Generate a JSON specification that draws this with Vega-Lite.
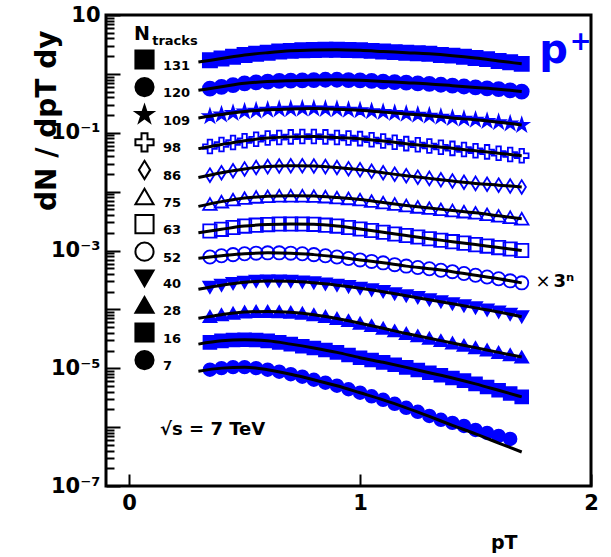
{
  "$schema": "https://vega.github.io/schema/vega-lite/v6.json",
  "width": 485,
  "height": 471,
  "autosize": {"type": "none"},
  "padding": {"left": 106, "top": 15, "right": 20, "bottom": 71},
  "background": "white",
  "config": {
    "font": "DejaVu Sans",
    "view": {"stroke": "black", "strokeWidth": 3},
    "axis": {
      "domain": false, "grid": false,
      "labelFont": "DejaVu Sans", "labelFontWeight": "bold", "labelFontSize": 21, "labelColor": "black",
      "titleFont": "DejaVu Sans", "titleFontWeight": "bold", "titleColor": "black",
      "tickColor": "black", "tickWidth": 2, "labelOverlap": false, "labelFlush": false
    },
    "text": {"font": "DejaVu Sans", "fontWeight": "bold", "color": "black"}
  },
  "datasets": {
    "series": [
      {"n":131},{"n":120},{"n":109},{"n":98},{"n":86},{"n":75},{"n":63},{"n":52},{"n":40},{"n":28},{"n":16},{"n":7}
    ],
    "spectra": [
      {"n":131,"pt":0.35,"v":1.70},{"n":131,"pt":0.40,"v":1.82},{"n":131,"pt":0.45,"v":1.95},{"n":131,"pt":0.50,"v":2.09},{"n":131,"pt":0.55,"v":2.19},{"n":131,"pt":0.60,"v":2.29},{"n":131,"pt":0.65,"v":2.40},{"n":131,"pt":0.70,"v":2.46},{"n":131,"pt":0.75,"v":2.51},{"n":131,"pt":0.80,"v":2.54},{"n":131,"pt":0.85,"v":2.57},{"n":131,"pt":0.90,"v":2.57},{"n":131,"pt":0.95,"v":2.54},{"n":131,"pt":1.00,"v":2.51},{"n":131,"pt":1.05,"v":2.46},{"n":131,"pt":1.10,"v":2.40},{"n":131,"pt":1.15,"v":2.34},{"n":131,"pt":1.20,"v":2.29},{"n":131,"pt":1.25,"v":2.24},{"n":131,"pt":1.30,"v":2.19},{"n":131,"pt":1.35,"v":2.09},{"n":131,"pt":1.40,"v":2.04},{"n":131,"pt":1.45,"v":1.95},{"n":131,"pt":1.50,"v":1.86},{"n":131,"pt":1.55,"v":1.78},{"n":131,"pt":1.60,"v":1.66},{"n":131,"pt":1.65,"v":1.58},{"n":131,"pt":1.70,"v":1.48},
      {"n":120,"pt":0.35,"v":0.562},{"n":120,"pt":0.40,"v":0.603},{"n":120,"pt":0.45,"v":0.646},{"n":120,"pt":0.50,"v":0.692},{"n":120,"pt":0.55,"v":0.716},{"n":120,"pt":0.60,"v":0.741},{"n":120,"pt":0.65,"v":0.759},{"n":120,"pt":0.70,"v":0.767},{"n":120,"pt":0.75,"v":0.776},{"n":120,"pt":0.80,"v":0.785},{"n":120,"pt":0.85,"v":0.794},{"n":120,"pt":0.90,"v":0.794},{"n":120,"pt":0.95,"v":0.785},{"n":120,"pt":1.00,"v":0.776},{"n":120,"pt":1.05,"v":0.759},{"n":120,"pt":1.10,"v":0.741},{"n":120,"pt":1.15,"v":0.724},{"n":120,"pt":1.20,"v":0.708},{"n":120,"pt":1.25,"v":0.692},{"n":120,"pt":1.30,"v":0.676},{"n":120,"pt":1.35,"v":0.653},{"n":120,"pt":1.40,"v":0.631},{"n":120,"pt":1.45,"v":0.610},{"n":120,"pt":1.50,"v":0.589},{"n":120,"pt":1.55,"v":0.569},{"n":120,"pt":1.60,"v":0.550},{"n":120,"pt":1.65,"v":0.525},{"n":120,"pt":1.70,"v":0.501},
      {"n":109,"pt":0.35,"v":0.1905},{"n":109,"pt":0.40,"v":0.204},{"n":109,"pt":0.45,"v":0.216},{"n":109,"pt":0.50,"v":0.229},{"n":109,"pt":0.55,"v":0.237},{"n":109,"pt":0.60,"v":0.245},{"n":109,"pt":0.65,"v":0.251},{"n":109,"pt":0.70,"v":0.254},{"n":109,"pt":0.75,"v":0.257},{"n":109,"pt":0.80,"v":0.257},{"n":109,"pt":0.85,"v":0.254},{"n":109,"pt":0.90,"v":0.251},{"n":109,"pt":0.95,"v":0.245},{"n":109,"pt":1.00,"v":0.240},{"n":109,"pt":1.05,"v":0.232},{"n":109,"pt":1.10,"v":0.224},{"n":109,"pt":1.15,"v":0.216},{"n":109,"pt":1.20,"v":0.209},{"n":109,"pt":1.25,"v":0.202},{"n":109,"pt":1.30,"v":0.195},{"n":109,"pt":1.35,"v":0.186},{"n":109,"pt":1.40,"v":0.178},{"n":109,"pt":1.45,"v":0.172},{"n":109,"pt":1.50,"v":0.166},{"n":109,"pt":1.55,"v":0.158},{"n":109,"pt":1.60,"v":0.151},{"n":109,"pt":1.65,"v":0.143},{"n":109,"pt":1.70,"v":0.135},
      {"n":98,"pt":0.35,"v":0.0582},{"n":98,"pt":0.40,"v":0.0631},{"n":98,"pt":0.45,"v":0.0684},{"n":98,"pt":0.50,"v":0.0733},{"n":98,"pt":0.55,"v":0.0776},{"n":98,"pt":0.60,"v":0.0813},{"n":98,"pt":0.65,"v":0.0832},{"n":98,"pt":0.70,"v":0.0851},{"n":98,"pt":0.75,"v":0.0861},{"n":98,"pt":0.80,"v":0.0861},{"n":98,"pt":0.85,"v":0.0851},{"n":98,"pt":0.90,"v":0.0832},{"n":98,"pt":0.95,"v":0.0813},{"n":98,"pt":1.00,"v":0.0794},{"n":98,"pt":1.05,"v":0.0759},{"n":98,"pt":1.10,"v":0.0724},{"n":98,"pt":1.15,"v":0.0692},{"n":98,"pt":1.20,"v":0.0653},{"n":98,"pt":1.25,"v":0.0624},{"n":98,"pt":1.30,"v":0.0596},{"n":98,"pt":1.35,"v":0.0569},{"n":98,"pt":1.40,"v":0.0543},{"n":98,"pt":1.45,"v":0.0519},{"n":98,"pt":1.50,"v":0.0495},{"n":98,"pt":1.55,"v":0.0473},{"n":98,"pt":1.60,"v":0.0447},{"n":98,"pt":1.65,"v":0.0427},{"n":98,"pt":1.70,"v":0.0407},
      {"n":86,"pt":0.35,"v":0.01905},{"n":86,"pt":0.40,"v":0.0209},{"n":86,"pt":0.45,"v":0.02265},{"n":86,"pt":0.50,"v":0.02427},{"n":86,"pt":0.55,"v":0.0257},{"n":86,"pt":0.60,"v":0.0266},{"n":86,"pt":0.65,"v":0.0272},{"n":86,"pt":0.70,"v":0.0275},{"n":86,"pt":0.75,"v":0.0275},{"n":86,"pt":0.80,"v":0.0272},{"n":86,"pt":0.85,"v":0.0266},{"n":86,"pt":0.90,"v":0.0257},{"n":86,"pt":0.95,"v":0.02455},{"n":86,"pt":1.00,"v":0.02344},{"n":86,"pt":1.05,"v":0.02213},{"n":86,"pt":1.10,"v":0.0209},{"n":86,"pt":1.15,"v":0.01972},{"n":86,"pt":1.20,"v":0.01862},{"n":86,"pt":1.25,"v":0.01758},{"n":86,"pt":1.30,"v":0.01679},{"n":86,"pt":1.35,"v":0.01585},{"n":86,"pt":1.40,"v":0.01514},{"n":86,"pt":1.45,"v":0.01445},{"n":86,"pt":1.50,"v":0.0138},{"n":86,"pt":1.55,"v":0.01334},{"n":86,"pt":1.60,"v":0.01288},{"n":86,"pt":1.65,"v":0.01245},{"n":86,"pt":1.70,"v":0.01202},
      {"n":75,"pt":0.35,"v":0.00617},{"n":75,"pt":0.40,"v":0.00676},{"n":75,"pt":0.45,"v":0.00733},{"n":75,"pt":0.50,"v":0.00776},{"n":75,"pt":0.55,"v":0.00813},{"n":75,"pt":0.60,"v":0.00832},{"n":75,"pt":0.65,"v":0.00851},{"n":75,"pt":0.70,"v":0.00851},{"n":75,"pt":0.75,"v":0.00851},{"n":75,"pt":0.80,"v":0.00841},{"n":75,"pt":0.85,"v":0.00822},{"n":75,"pt":0.90,"v":0.00794},{"n":75,"pt":0.95,"v":0.00767},{"n":75,"pt":1.00,"v":0.00733},{"n":75,"pt":1.05,"v":0.00692},{"n":75,"pt":1.10,"v":0.00653},{"n":75,"pt":1.15,"v":0.00617},{"n":75,"pt":1.20,"v":0.00582},{"n":75,"pt":1.25,"v":0.0055},{"n":75,"pt":1.30,"v":0.00525},{"n":75,"pt":1.35,"v":0.00501},{"n":75,"pt":1.40,"v":0.00479},{"n":75,"pt":1.45,"v":0.00457},{"n":75,"pt":1.50,"v":0.00437},{"n":75,"pt":1.55,"v":0.00412},{"n":75,"pt":1.60,"v":0.00389},{"n":75,"pt":1.65,"v":0.00367},{"n":75,"pt":1.70,"v":0.00347},
      {"n":63,"pt":0.35,"v":0.00214},{"n":63,"pt":0.40,"v":0.00229},{"n":63,"pt":0.45,"v":0.002455},{"n":63,"pt":0.50,"v":0.0026},{"n":63,"pt":0.55,"v":0.00269},{"n":63,"pt":0.60,"v":0.002754},{"n":63,"pt":0.65,"v":0.002818},{"n":63,"pt":0.70,"v":0.002818},{"n":63,"pt":0.75,"v":0.002818},{"n":63,"pt":0.80,"v":0.002786},{"n":63,"pt":0.85,"v":0.00269},{"n":63,"pt":0.90,"v":0.0026},{"n":63,"pt":0.95,"v":0.002455},{"n":63,"pt":1.00,"v":0.002317},{"n":63,"pt":1.05,"v":0.002188},{"n":63,"pt":1.10,"v":0.002042},{"n":63,"pt":1.15,"v":0.001905},{"n":63,"pt":1.20,"v":0.001799},{"n":63,"pt":1.25,"v":0.001698},{"n":63,"pt":1.30,"v":0.001585},{"n":63,"pt":1.35,"v":0.001496},{"n":63,"pt":1.40,"v":0.001413},{"n":63,"pt":1.45,"v":0.001334},{"n":63,"pt":1.50,"v":0.001259},{"n":63,"pt":1.55,"v":0.001189},{"n":63,"pt":1.60,"v":0.001122},{"n":63,"pt":1.65,"v":0.001059},{"n":63,"pt":1.70,"v":0.001},
      {"n":52,"pt":0.35,"v":7.76e-4},{"n":52,"pt":0.40,"v":8.13e-4},{"n":52,"pt":0.45,"v":8.51e-4},{"n":52,"pt":0.50,"v":8.81e-4},{"n":52,"pt":0.55,"v":9.02e-4},{"n":52,"pt":0.60,"v":9.12e-4},{"n":52,"pt":0.65,"v":9.12e-4},{"n":52,"pt":0.70,"v":9.02e-4},{"n":52,"pt":0.75,"v":8.81e-4},{"n":52,"pt":0.80,"v":8.51e-4},{"n":52,"pt":0.85,"v":8.13e-4},{"n":52,"pt":0.90,"v":7.76e-4},{"n":52,"pt":0.95,"v":7.33e-4},{"n":52,"pt":1.00,"v":6.92e-4},{"n":52,"pt":1.05,"v":6.53e-4},{"n":52,"pt":1.10,"v":6.17e-4},{"n":52,"pt":1.15,"v":5.75e-4},{"n":52,"pt":1.20,"v":5.43e-4},{"n":52,"pt":1.25,"v":5.13e-4},{"n":52,"pt":1.30,"v":4.90e-4},{"n":52,"pt":1.35,"v":4.62e-4},{"n":52,"pt":1.40,"v":4.37e-4},{"n":52,"pt":1.45,"v":4.07e-4},{"n":52,"pt":1.50,"v":3.80e-4},{"n":52,"pt":1.55,"v":3.55e-4},{"n":52,"pt":1.60,"v":3.31e-4},{"n":52,"pt":1.65,"v":3.05e-4},{"n":52,"pt":1.70,"v":2.82e-4},
      {"n":40,"pt":0.35,"v":2.37e-4},{"n":40,"pt":0.40,"v":2.57e-4},{"n":40,"pt":0.45,"v":2.75e-4},{"n":40,"pt":0.50,"v":2.88e-4},{"n":40,"pt":0.55,"v":2.99e-4},{"n":40,"pt":0.60,"v":3.02e-4},{"n":40,"pt":0.65,"v":3.02e-4},{"n":40,"pt":0.70,"v":2.99e-4},{"n":40,"pt":0.75,"v":2.92e-4},{"n":40,"pt":0.80,"v":2.82e-4},{"n":40,"pt":0.85,"v":2.69e-4},{"n":40,"pt":0.90,"v":2.57e-4},{"n":40,"pt":0.95,"v":2.43e-4},{"n":40,"pt":1.00,"v":2.29e-4},{"n":40,"pt":1.05,"v":2.14e-4},{"n":40,"pt":1.10,"v":2.00e-4},{"n":40,"pt":1.15,"v":1.84e-4},{"n":40,"pt":1.20,"v":1.70e-4},{"n":40,"pt":1.25,"v":1.585e-4},{"n":40,"pt":1.30,"v":1.46e-4},{"n":40,"pt":1.35,"v":1.35e-4},{"n":40,"pt":1.40,"v":1.245e-4},{"n":40,"pt":1.45,"v":1.15e-4},{"n":40,"pt":1.50,"v":1.06e-4},{"n":40,"pt":1.55,"v":9.77e-5},{"n":40,"pt":1.60,"v":9.02e-5},{"n":40,"pt":1.65,"v":8.22e-5},{"n":40,"pt":1.70,"v":7.50e-5},
      {"n":28,"pt":0.35,"v":7.59e-5},{"n":28,"pt":0.40,"v":8.13e-5},{"n":28,"pt":0.45,"v":8.61e-5},{"n":28,"pt":0.50,"v":9.02e-5},{"n":28,"pt":0.55,"v":9.23e-5},{"n":28,"pt":0.60,"v":9.23e-5},{"n":28,"pt":0.65,"v":9.12e-5},{"n":28,"pt":0.70,"v":8.91e-5},{"n":28,"pt":0.75,"v":8.61e-5},{"n":28,"pt":0.80,"v":8.13e-5},{"n":28,"pt":0.85,"v":7.59e-5},{"n":28,"pt":0.90,"v":7.00e-5},{"n":28,"pt":0.95,"v":6.46e-5},{"n":28,"pt":1.00,"v":5.82e-5},{"n":28,"pt":1.05,"v":5.31e-5},{"n":28,"pt":1.10,"v":4.79e-5},{"n":28,"pt":1.15,"v":4.32e-5},{"n":28,"pt":1.20,"v":3.89e-5},{"n":28,"pt":1.25,"v":3.55e-5},{"n":28,"pt":1.30,"v":3.24e-5},{"n":28,"pt":1.35,"v":2.95e-5},{"n":28,"pt":1.40,"v":2.69e-5},{"n":28,"pt":1.45,"v":2.45e-5},{"n":28,"pt":1.50,"v":2.24e-5},{"n":28,"pt":1.55,"v":2.04e-5},{"n":28,"pt":1.60,"v":1.86e-5},{"n":28,"pt":1.65,"v":1.70e-5},{"n":28,"pt":1.70,"v":1.55e-5},
      {"n":16,"pt":0.35,"v":2.75e-5},{"n":16,"pt":0.40,"v":2.92e-5},{"n":16,"pt":0.45,"v":3.02e-5},{"n":16,"pt":0.50,"v":3.05e-5},{"n":16,"pt":0.55,"v":3.02e-5},{"n":16,"pt":0.60,"v":2.92e-5},{"n":16,"pt":0.65,"v":2.75e-5},{"n":16,"pt":0.70,"v":2.57e-5},{"n":16,"pt":0.75,"v":2.37e-5},{"n":16,"pt":0.80,"v":2.21e-5},{"n":16,"pt":0.85,"v":2.04e-5},{"n":16,"pt":0.90,"v":1.86e-5},{"n":16,"pt":0.95,"v":1.68e-5},{"n":16,"pt":1.00,"v":1.51e-5},{"n":16,"pt":1.05,"v":1.38e-5},{"n":16,"pt":1.10,"v":1.26e-5},{"n":16,"pt":1.15,"v":1.15e-5},{"n":16,"pt":1.20,"v":1.035e-5},{"n":16,"pt":1.25,"v":9.33e-6},{"n":16,"pt":1.30,"v":8.41e-6},{"n":16,"pt":1.35,"v":7.59e-6},{"n":16,"pt":1.40,"v":6.84e-6},{"n":16,"pt":1.45,"v":6.17e-6},{"n":16,"pt":1.50,"v":5.43e-6},{"n":16,"pt":1.55,"v":4.79e-6},{"n":16,"pt":1.60,"v":4.22e-6},{"n":16,"pt":1.65,"v":3.72e-6},{"n":16,"pt":1.70,"v":3.27e-6},
      {"n":7,"pt":0.35,"v":9.46e-6},{"n":7,"pt":0.40,"v":1.005e-5},{"n":7,"pt":0.45,"v":1.045e-5},{"n":7,"pt":0.50,"v":1.045e-5},{"n":7,"pt":0.55,"v":1.005e-5},{"n":7,"pt":0.60,"v":9.46e-6},{"n":7,"pt":0.65,"v":8.75e-6},{"n":7,"pt":0.70,"v":7.92e-6},{"n":7,"pt":0.75,"v":7.19e-6},{"n":7,"pt":0.80,"v":6.38e-6},{"n":7,"pt":0.85,"v":5.68e-6},{"n":7,"pt":0.90,"v":5.05e-6},{"n":7,"pt":0.95,"v":4.40e-6},{"n":7,"pt":1.00,"v":3.84e-6},{"n":7,"pt":1.05,"v":3.34e-6},{"n":7,"pt":1.10,"v":2.91e-6},{"n":7,"pt":1.15,"v":2.49e-6},{"n":7,"pt":1.20,"v":2.13e-6},{"n":7,"pt":1.25,"v":1.82e-6},{"n":7,"pt":1.30,"v":1.55e-6},{"n":7,"pt":1.35,"v":1.33e-6},{"n":7,"pt":1.40,"v":1.18e-6},{"n":7,"pt":1.45,"v":1.047e-6},{"n":7,"pt":1.50,"v":8.95e-7},{"n":7,"pt":1.55,"v":7.96e-7},{"n":7,"pt":1.60,"v":7.08e-7},{"n":7,"pt":1.65,"v":6.30e-7}
    ],
    "fits": [
      {"n":131,"pt":0.3,"v":1.585},{"n":131,"pt":0.4,"v":1.82},{"n":131,"pt":0.5,"v":2.09},{"n":131,"pt":0.6,"v":2.29},{"n":131,"pt":0.7,"v":2.46},{"n":131,"pt":0.8,"v":2.54},{"n":131,"pt":0.9,"v":2.57},{"n":131,"pt":1.0,"v":2.51},{"n":131,"pt":1.1,"v":2.40},{"n":131,"pt":1.2,"v":2.29},{"n":131,"pt":1.3,"v":2.19},{"n":131,"pt":1.4,"v":2.04},{"n":131,"pt":1.5,"v":1.86},{"n":131,"pt":1.6,"v":1.66},{"n":131,"pt":1.7,"v":1.48},
      {"n":120,"pt":0.3,"v":0.525},{"n":120,"pt":0.4,"v":0.603},{"n":120,"pt":0.5,"v":0.692},{"n":120,"pt":0.6,"v":0.741},{"n":120,"pt":0.7,"v":0.767},{"n":120,"pt":0.8,"v":0.785},{"n":120,"pt":0.9,"v":0.794},{"n":120,"pt":1.0,"v":0.776},{"n":120,"pt":1.1,"v":0.741},{"n":120,"pt":1.2,"v":0.708},{"n":120,"pt":1.3,"v":0.676},{"n":120,"pt":1.4,"v":0.631},{"n":120,"pt":1.5,"v":0.589},{"n":120,"pt":1.6,"v":0.550},{"n":120,"pt":1.7,"v":0.501},
      {"n":109,"pt":0.3,"v":0.178},{"n":109,"pt":0.4,"v":0.204},{"n":109,"pt":0.5,"v":0.229},{"n":109,"pt":0.6,"v":0.245},{"n":109,"pt":0.7,"v":0.254},{"n":109,"pt":0.8,"v":0.257},{"n":109,"pt":0.9,"v":0.251},{"n":109,"pt":1.0,"v":0.240},{"n":109,"pt":1.1,"v":0.224},{"n":109,"pt":1.2,"v":0.209},{"n":109,"pt":1.3,"v":0.195},{"n":109,"pt":1.4,"v":0.178},{"n":109,"pt":1.5,"v":0.166},{"n":109,"pt":1.6,"v":0.151},{"n":109,"pt":1.7,"v":0.135},
      {"n":98,"pt":0.3,"v":0.0537},{"n":98,"pt":0.4,"v":0.0631},{"n":98,"pt":0.5,"v":0.0733},{"n":98,"pt":0.6,"v":0.0813},{"n":98,"pt":0.7,"v":0.0851},{"n":98,"pt":0.8,"v":0.0861},{"n":98,"pt":0.9,"v":0.0832},{"n":98,"pt":1.0,"v":0.0794},{"n":98,"pt":1.1,"v":0.0724},{"n":98,"pt":1.2,"v":0.0653},{"n":98,"pt":1.3,"v":0.0596},{"n":98,"pt":1.4,"v":0.0543},{"n":98,"pt":1.5,"v":0.0495},{"n":98,"pt":1.6,"v":0.0447},{"n":98,"pt":1.7,"v":0.0407},
      {"n":86,"pt":0.3,"v":0.01738},{"n":86,"pt":0.4,"v":0.0209},{"n":86,"pt":0.5,"v":0.02427},{"n":86,"pt":0.6,"v":0.0266},{"n":86,"pt":0.7,"v":0.0275},{"n":86,"pt":0.8,"v":0.0272},{"n":86,"pt":0.9,"v":0.0257},{"n":86,"pt":1.0,"v":0.02344},{"n":86,"pt":1.1,"v":0.0209},{"n":86,"pt":1.2,"v":0.01862},{"n":86,"pt":1.3,"v":0.01679},{"n":86,"pt":1.4,"v":0.01514},{"n":86,"pt":1.5,"v":0.0138},{"n":86,"pt":1.6,"v":0.01288},{"n":86,"pt":1.7,"v":0.01202},
      {"n":75,"pt":0.3,"v":0.00562},{"n":75,"pt":0.4,"v":0.00676},{"n":75,"pt":0.5,"v":0.00776},{"n":75,"pt":0.6,"v":0.00832},{"n":75,"pt":0.7,"v":0.00851},{"n":75,"pt":0.8,"v":0.00841},{"n":75,"pt":0.9,"v":0.00794},{"n":75,"pt":1.0,"v":0.00733},{"n":75,"pt":1.1,"v":0.00653},{"n":75,"pt":1.2,"v":0.00582},{"n":75,"pt":1.3,"v":0.00525},{"n":75,"pt":1.4,"v":0.00479},{"n":75,"pt":1.5,"v":0.00437},{"n":75,"pt":1.6,"v":0.00389},{"n":75,"pt":1.7,"v":0.00347},
      {"n":63,"pt":0.3,"v":0.001995},{"n":63,"pt":0.4,"v":0.00229},{"n":63,"pt":0.5,"v":0.0026},{"n":63,"pt":0.6,"v":0.002754},{"n":63,"pt":0.7,"v":0.002818},{"n":63,"pt":0.8,"v":0.002786},{"n":63,"pt":0.9,"v":0.0026},{"n":63,"pt":1.0,"v":0.002317},{"n":63,"pt":1.1,"v":0.002042},{"n":63,"pt":1.2,"v":0.001799},{"n":63,"pt":1.3,"v":0.001585},{"n":63,"pt":1.4,"v":0.001413},{"n":63,"pt":1.5,"v":0.001259},{"n":63,"pt":1.6,"v":0.001122},{"n":63,"pt":1.7,"v":0.001},
      {"n":52,"pt":0.3,"v":7.41e-4},{"n":52,"pt":0.4,"v":8.13e-4},{"n":52,"pt":0.5,"v":8.81e-4},{"n":52,"pt":0.6,"v":9.12e-4},{"n":52,"pt":0.7,"v":9.02e-4},{"n":52,"pt":0.8,"v":8.51e-4},{"n":52,"pt":0.9,"v":7.76e-4},{"n":52,"pt":1.0,"v":6.92e-4},{"n":52,"pt":1.1,"v":6.17e-4},{"n":52,"pt":1.2,"v":5.43e-4},{"n":52,"pt":1.3,"v":4.90e-4},{"n":52,"pt":1.4,"v":4.37e-4},{"n":52,"pt":1.5,"v":3.80e-4},{"n":52,"pt":1.6,"v":3.31e-4},{"n":52,"pt":1.7,"v":2.82e-4},
      {"n":40,"pt":0.3,"v":2.19e-4},{"n":40,"pt":0.4,"v":2.57e-4},{"n":40,"pt":0.5,"v":2.88e-4},{"n":40,"pt":0.6,"v":3.02e-4},{"n":40,"pt":0.7,"v":2.99e-4},{"n":40,"pt":0.8,"v":2.82e-4},{"n":40,"pt":0.9,"v":2.57e-4},{"n":40,"pt":1.0,"v":2.29e-4},{"n":40,"pt":1.1,"v":2.00e-4},{"n":40,"pt":1.2,"v":1.70e-4},{"n":40,"pt":1.3,"v":1.46e-4},{"n":40,"pt":1.4,"v":1.245e-4},{"n":40,"pt":1.5,"v":1.06e-4},{"n":40,"pt":1.6,"v":9.02e-5},{"n":40,"pt":1.7,"v":7.50e-5},
      {"n":28,"pt":0.3,"v":7.08e-5},{"n":28,"pt":0.4,"v":8.13e-5},{"n":28,"pt":0.5,"v":9.02e-5},{"n":28,"pt":0.6,"v":9.23e-5},{"n":28,"pt":0.7,"v":8.91e-5},{"n":28,"pt":0.8,"v":8.13e-5},{"n":28,"pt":0.9,"v":7.00e-5},{"n":28,"pt":1.0,"v":5.82e-5},{"n":28,"pt":1.1,"v":4.79e-5},{"n":28,"pt":1.2,"v":3.89e-5},{"n":28,"pt":1.3,"v":3.24e-5},{"n":28,"pt":1.4,"v":2.69e-5},{"n":28,"pt":1.5,"v":2.24e-5},{"n":28,"pt":1.6,"v":1.86e-5},{"n":28,"pt":1.7,"v":1.55e-5},
      {"n":16,"pt":0.3,"v":2.57e-5},{"n":16,"pt":0.4,"v":2.92e-5},{"n":16,"pt":0.5,"v":3.05e-5},{"n":16,"pt":0.6,"v":2.92e-5},{"n":16,"pt":0.7,"v":2.57e-5},{"n":16,"pt":0.8,"v":2.21e-5},{"n":16,"pt":0.9,"v":1.86e-5},{"n":16,"pt":1.0,"v":1.51e-5},{"n":16,"pt":1.1,"v":1.26e-5},{"n":16,"pt":1.2,"v":1.035e-5},{"n":16,"pt":1.3,"v":8.41e-6},{"n":16,"pt":1.4,"v":6.84e-6},{"n":16,"pt":1.5,"v":5.43e-6},{"n":16,"pt":1.6,"v":4.22e-6},{"n":16,"pt":1.7,"v":3.27e-6},
      {"n":7,"pt":0.3,"v":8.93e-6},{"n":7,"pt":0.4,"v":1.005e-5},{"n":7,"pt":0.5,"v":1.045e-5},{"n":7,"pt":0.6,"v":9.46e-6},{"n":7,"pt":0.7,"v":7.92e-6},{"n":7,"pt":0.8,"v":6.38e-6},{"n":7,"pt":0.9,"v":5.05e-6},{"n":7,"pt":1.0,"v":3.84e-6},{"n":7,"pt":1.1,"v":2.91e-6},{"n":7,"pt":1.2,"v":2.13e-6},{"n":7,"pt":1.3,"v":1.52e-6},{"n":7,"pt":1.4,"v":1.07e-6},{"n":7,"pt":1.5,"v":7.66e-7},{"n":7,"pt":1.6,"v":5.37e-7},{"n":7,"pt":1.7,"v":3.78e-7}
    ]
  },
  "resolve": {"scale": {"shape": "independent", "fill": "independent", "size": "independent"}},
  "layer": [
    {
      "data": {"name": "series"},
      "mark": {"type": "point", "filled": false, "color": "black", "strokeWidth": 2, "size": 330, "opacity": 1},
      "encoding": {
        "x": {"field": "pt", "type": "quantitative"},
        "y": {"field": "v", "type": "quantitative"},
        "shape": {
          "field": "n", "type": "nominal",
          "scale": {
            "domain": [131, 120, 109, 98, 86, 75, 63, 52, 40, 28, 16, 7],
            "range": ["square", "circle",
              "M0,-1L0.225,-0.309L0.951,-0.309L0.363,0.118L0.588,0.809L0,0.382L-0.588,0.809L-0.363,0.118L-0.951,-0.309L-0.225,-0.309Z",
              "M-0.33,-1L0.33,-1L0.33,-0.33L1,-0.33L1,0.33L0.33,0.33L0.33,1L-0.33,1L-0.33,0.33L-1,0.33L-1,-0.33L-0.33,-0.33Z",
              "M0,-1L0.62,0L0,1L-0.62,0Z",
              "triangle-up", "square", "circle", "triangle-down", "triangle-up", "square", "circle"]
          },
          "legend": {
            "title": "N", "orient": "none", "legendX": 28, "legendY": 10, "padding": 0,
            "titleFont": "DejaVu Sans", "titleFontSize": 19, "titleFontWeight": "bold", "titleColor": "black",
            "titleBaseline": "top", "titlePadding": 5, "titleAnchor": "start",
            "labelFont": "DejaVu Sans", "labelFontSize": 13, "labelFontWeight": "bold", "labelColor": "black",
            "labelBaseline": "top", "labelOffset": 8, "symbolSize": 330, "symbolStrokeWidth": 2, "rowPadding": 0.6
          }
        },
        "fill": {
          "field": "n", "type": "nominal",
          "scale": {
            "domain": [131, 120, 109, 98, 86, 75, 63, 52, 40, 28, 16, 7],
            "range": ["black", "black", "black", "transparent", "transparent", "transparent", "transparent", "transparent", "black", "black", "black", "black"]
          },
          "legend": {
            "title": "N", "orient": "none", "legendX": 28, "legendY": 10, "padding": 0,
            "titleFont": "DejaVu Sans", "titleFontSize": 19, "titleFontWeight": "bold", "titleColor": "black",
            "titleBaseline": "top", "titlePadding": 5, "titleAnchor": "start",
            "labelFont": "DejaVu Sans", "labelFontSize": 13, "labelFontWeight": "bold", "labelColor": "black",
            "labelBaseline": "top", "labelOffset": 8, "symbolSize": 330, "symbolStrokeWidth": 2, "rowPadding": 0.6
          }
        }
      }
    },
    {
      "data": {"name": "spectra"},
      "mark": {"type": "point", "filled": false, "opacity": 1, "stroke": "#0000ff", "strokeWidth": 1.8},
      "encoding": {
        "x": {
          "field": "pt", "type": "quantitative",
          "scale": {"domain": [-0.1, 2], "nice": false, "zero": false},
          "axis": {
            "values": [0, 1, 2],
            "labelExpr": "datum.value == 0 ? '0' : datum.value == 1 ? '1' : datum.value == 2 ? '2' : ''",
            "tickSize": -12, "labelPadding": 18, "labelOverlap": false,
            "title": "pT", "titleFontSize": 19, "titleAlign": "right", "titleAnchor": "start",
            "titleBaseline": "alphabetic", "titleX": 411, "titleY": 62
          }
        },
        "y": {
          "field": "v", "type": "quantitative",
          "scale": {"type": "log", "domain": [1e-7, 10], "nice": false},
          "axis": {
            "values": [10, 9, 8, 7, 6, 5, 4, 3, 2, 1,
              0.9, 0.8, 0.7, 0.6, 0.5, 0.4, 0.3, 0.2, 0.1,
              0.09, 0.08, 0.07, 0.06, 0.05, 0.04, 0.03, 0.02, 0.01,
              0.009, 0.008, 0.007, 0.006, 0.005, 0.004, 0.003, 0.002, 0.001,
              0.0009, 0.0008, 0.0007, 0.0006, 0.0005, 0.0004, 0.0003, 0.0002, 0.0001,
              9e-5, 8e-5, 7e-5, 6e-5, 5e-5, 4e-5, 3e-5, 2e-5, 1e-5,
              9e-6, 8e-6, 7e-6, 6e-6, 5e-6, 4e-6, 3e-6, 2e-6, 1e-6,
              9e-7, 8e-7, 7e-7, 6e-7, 5e-7, 4e-7, 3e-7, 2e-7, 1e-7],
            "labelExpr": "datum.value == 10 ? '10' : datum.value == 0.1 ? '10⁻¹' : datum.value == 0.001 ? '10⁻³' : datum.value == 0.00001 ? '10⁻⁵' : datum.value == 1e-7 ? '10⁻⁷' : ''",
            "tickSize": {"condition": {"test": "indexof([10, 1, 0.1, 0.01, 0.001, 0.0001, 0.00001, 0.000001, 1e-7], datum.value) >= 0", "value": -14}, "value": -8},
            "labelPadding": 20, "labelOverlap": false,
            "title": "dN / dpT dy", "titleFontSize": 28, "titleAngle": 270, "titleAlign": "right",
            "titleBaseline": "alphabetic", "titleX": -51, "titleY": 15
          }
        },
        "shape": {
          "field": "n", "type": "nominal",
          "scale": {
            "domain": [131, 120, 109, 98, 86, 75, 63, 52, 40, 28, 16, 7],
            "range": ["square", "circle",
              "M0,-1L0.225,-0.309L0.951,-0.309L0.363,0.118L0.588,0.809L0,0.382L-0.588,0.809L-0.363,0.118L-0.951,-0.309L-0.225,-0.309Z",
              "M-0.33,-1L0.33,-1L0.33,-0.33L1,-0.33L1,0.33L0.33,0.33L0.33,1L-0.33,1L-0.33,0.33L-1,0.33L-1,-0.33L-0.33,-0.33Z",
              "M0,-1L0.62,0L0,1L-0.62,0Z",
              "triangle-up", "square", "circle", "triangle-down", "triangle-up", "square", "circle"]
          },
          "legend": null
        },
        "fill": {
          "field": "n", "type": "nominal",
          "scale": {
            "domain": [131, 120, 109, 98, 86, 75, 63, 52, 40, 28, 16, 7],
            "range": ["#0000ff", "#0000ff", "#0000ff", "transparent", "transparent", "transparent", "transparent", "transparent", "#0000ff", "#0000ff", "#0000ff", "#0000ff"]
          },
          "legend": null
        },
        "size": {
          "field": "n", "type": "nominal",
          "scale": {
            "domain": [131, 120, 109, 98, 86, 75, 63, 52, 40, 28, 16, 7],
            "range": [200, 160, 190, 150, 170, 150, 130, 120, 150, 150, 200, 160]
          },
          "legend": null
        }
      }
    },
    {
      "data": {"name": "fits"},
      "mark": {"type": "line", "color": "black", "strokeWidth": 3, "interpolate": "monotone"},
      "encoding": {
        "x": {"field": "pt", "type": "quantitative"},
        "y": {"field": "v", "type": "quantitative"},
        "detail": {"field": "n", "type": "nominal"}
      }
    },
    {
      "data": {"values": [{}]},
      "mark": {"type": "text", "text": "tracks", "fontSize": 13, "align": "left", "baseline": "alphabetic"},
      "encoding": {"x": {"datum": 0.1}, "y": {"datum": 3.09}}
    },
    {
      "data": {"values": [{}]},
      "mark": {"type": "text", "text": "p", "fontSize": 40, "color": "#0000ff", "align": "left", "baseline": "alphabetic"},
      "encoding": {"x": {"datum": 1.776}, "y": {"datum": 1.53}}
    },
    {
      "data": {"values": [{}]},
      "mark": {"type": "text", "text": "+", "fontSize": 26, "color": "#0000ff", "align": "center", "baseline": "middle"},
      "encoding": {"x": {"datum": 1.955}, "y": {"datum": 3.47}}
    },
    {
      "data": {"values": [{}]},
      "mark": {"type": "text", "text": "×", "fontSize": 18, "fontWeight": "normal", "align": "left", "baseline": "middle"},
      "encoding": {"x": {"datum": 1.76}, "y": {"datum": 2.92e-4}}
    },
    {
      "data": {"values": [{}]},
      "mark": {"type": "text", "text": "3ⁿ", "fontSize": 18, "align": "left", "baseline": "middle"},
      "encoding": {"x": {"datum": 1.838}, "y": {"datum": 2.92e-4}}
    },
    {
      "data": {"values": [{}]},
      "mark": {"type": "text", "text": "√s = 7 TeV", "fontSize": 18, "align": "left", "baseline": "alphabetic"},
      "encoding": {"x": {"datum": 0.134}, "y": {"datum": 7.35e-7}}
    }
  ]
}
